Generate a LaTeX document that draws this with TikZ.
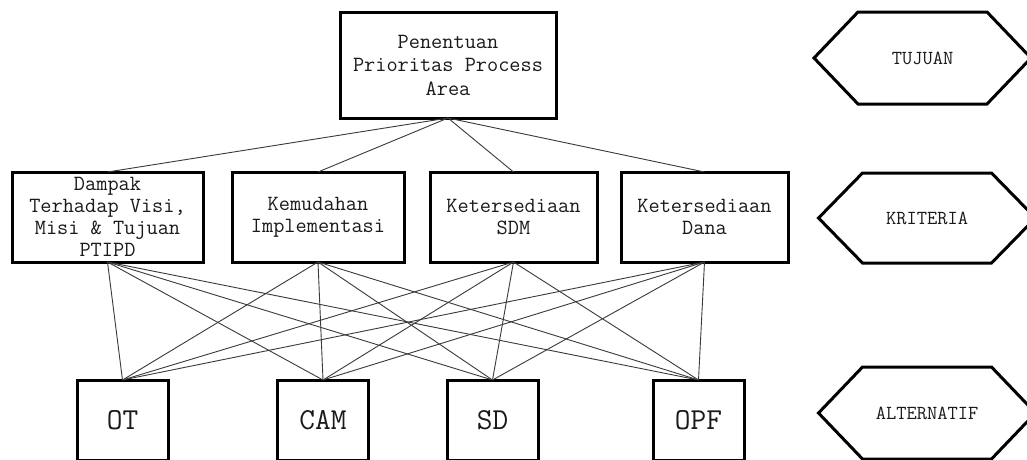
\documentclass[tikz,border=0pt]{standalone}
\usepackage{fontspec}
\usetikzlibrary{calc}
\definecolor{ink}{HTML}{1A1A1A}
\definecolor{wire}{HTML}{3A3A3A}
\tikzset{
  box/.style={draw=black, line width=3pt, rectangle, inner sep=0pt, outer sep=0pt,
    align=center, text=ink},
  goalbox/.style={box, minimum width=216pt, minimum height=106pt,
    font=\ttfamily\fontsize{21.7}{23.5}\selectfont},
  critbox/.style={box, minimum height=90pt,
    font=\ttfamily\fontsize{21.7}{22}\selectfont},
  altbox/.style={box, minimum width=91pt, minimum height=80pt,
    font=\ttfamily\fontsize{30.5}{32}\selectfont},
  levelbox/.style={inner sep=0pt, outer sep=0pt, minimum width=129pt, text=ink,
    font=\ttfamily\fontsize{19.9}{22}\selectfont},
  hexline/.style={draw=black, line width=3pt, line join=miter},
  wireline/.style={draw=wire, line width=0.9pt},
}
\begin{document}
\begin{tikzpicture}[x=1pt, y=-1pt]
  \useasboundingbox (0,0) rectangle (1027,459);
  \clip (0,0) rectangle (1027,459);
  \fill[white] (0,0) rectangle (1027,459);

  % goal
  \node[goalbox] (goal) at (448,65) {Penentuan\\Prioritas Process\\Area};

  % criteria
  \node[critbox, minimum width=191pt] (c1) at (107.5,217) {Dampak\\Terhadap Visi,\\Misi \& Tujuan\\PTIPD};
  \node[critbox, minimum width=172pt] (c2) at (318,217) {Kemudahan\\Implementasi};
  \node[critbox, minimum width=167pt] (c3) at (513.5,217) {Ketersediaan\\SDM};
  \node[critbox, minimum width=167pt] (c4) at (704.5,217) {Ketersediaan\\Dana};

  % alternatives
  \node[altbox] (a1) at (122.5,420) {OT};
  \node[altbox] (a2) at (323,420) {CAM};
  \node[altbox] (a3) at (492.5,420) {SD};
  \node[altbox] (a4) at (698.5,420) {OPF};

  % goal to criteria
  \foreach \c in {c1,c2,c3,c4}
    \draw[wireline] (goal.south) -- (\c.north);

  % criteria to alternatives
  \foreach \c in {c1,c2,c3,c4}
    \foreach \a in {a1,a2,a3,a4}
      \draw[wireline] (\c.south) -- (\a.north);

  % level labels in hexagons
  \node[levelbox, minimum height=92pt] (lv1) at (922.5,58) {TUJUAN};
  \node[levelbox, minimum height=90pt] (lv2) at (927,218) {KRITERIA};
  \node[levelbox, minimum height=92pt] (lv3) at (927,413) {ALTERNATIF};

  \foreach \h in {lv1,lv2,lv3}
    \draw[hexline] (\h.north west) -- (\h.north east) -- ($(\h.east)+(44,0)$)
      -- (\h.south east) -- (\h.south west) -- ($(\h.west)+(-44,0)$) -- cycle;
\end{tikzpicture}
\end{document}
